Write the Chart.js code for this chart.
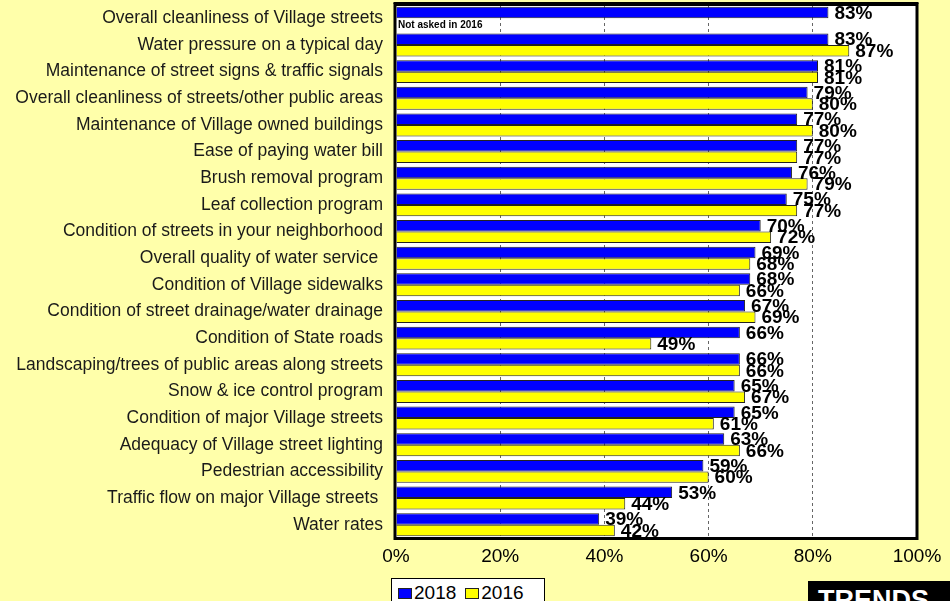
<!DOCTYPE html>
<html>
<head>
<meta charset="utf-8">
<script src="https://cdn.jsdelivr.net/npm/chart.js@4.4.1/dist/chart.umd.min.js"></script>
<style>
  html, body { margin: 0; padding: 0; background: #FFFFAA; }
  #wrap { position: relative; width: 950px; height: 601px; overflow: hidden; background: #FFFFAA; }
  #chart { position: absolute; left: 0; top: 0; }
  #legend {
    position: absolute; left: 391px; top: 578px; width: 154px; height: 28px;
    background: #fff; border: 1px solid #000; box-sizing: border-box;
    font: 19px "Liberation Sans", Arial, sans-serif; color: #000;
    display: flex; align-items: flex-start; padding: 3px 0 0 6px;
  }
  #legend .sw { display: inline-block; width: 14px; height: 11px; border: 1px solid #222; box-sizing: border-box; margin: 6px 2px 0 0; }
  #legend .item { display: flex; align-items: flex-start; margin-right: 9px; line-height: 22px; }
  #logo {
    position: absolute; left: 808px; top: 581px; width: 150px; height: 30px; background: #000;
    color: #fff; font: bold 27px "Liberation Sans", Arial, sans-serif; line-height: 30px;
    padding: 4px 0 0 10px; box-sizing: border-box;
  }
</style>
</head>
<body>
<div id="wrap">
  <canvas id="chart" width="950" height="601"></canvas>
  <div id="legend"></div>
  <div id="logo">TRENDS</div>
</div>
<script>
// Survey items, top to bottom
const categories = [
  "Overall cleanliness of Village streets",
  "Water pressure on a typical day",
  "Maintenance of street signs & traffic signals",
  "Overall cleanliness of streets/other public areas",
  "Maintenance of Village owned buildings",
  "Ease of paying water bill",
  "Brush removal program",
  "Leaf collection program",
  "Condition of streets in your neighborhood",
  "Overall quality of water service ",
  "Condition of Village sidewalks",
  "Condition of street drainage/water drainage",
  "Condition of State roads",
  "Landscaping/trees of public areas along streets",
  "Snow & ice control program",
  "Condition of major Village streets",
  "Adequacy of Village street lighting",
  "Pedestrian accessibility",
  "Traffic flow on major Village streets ",
  "Water rates"
];

// Percent satisfied by survey year (null = item not asked)
const values2018 = [83, 83, 81, 79, 77, 77, 76, 75, 70, 69, 68, 67, 66, 66, 65, 65, 63, 59, 53, 39];
const values2016 = [null, 87, 81, 80, 80, 77, 79, 77, 72, 68, 66, 69, 49, 66, 67, 61, 66, 60, 44, 42];

const seriesNames = ["2018", "2016"];
const seriesColors = ["#0000FF", "#FFFF00"];
const xTicks = [0, 20, 40, 60, 80, 100];
const notAskedNote = "Not asked in 2016";

const FONT = '"Liberation Sans", Arial, sans-serif';

// Legend box under the axis
const legendEl = document.getElementById('legend');
seriesNames.forEach((name, i) => {
  const item = document.createElement('span');
  item.className = 'item';
  const sw = document.createElement('span');
  sw.className = 'sw';
  sw.style.background = seriesColors[i];
  item.appendChild(sw);
  item.appendChild(document.createTextNode(name));
  legendEl.appendChild(item);
});

// White plot area
const plotBackground = {
  id: 'plotBackground',
  beforeDraw(chart) {
    const { ctx, chartArea: a } = chart;
    ctx.save();
    ctx.fillStyle = '#ffffff';
    ctx.fillRect(a.left, a.top, a.right - a.left, a.bottom - a.top);
    ctx.restore();
  }
};

// Value labels at the bar ends, plus the note for the missing 2016 value
const valueLabels = {
  id: 'valueLabels',
  afterDatasetsDraw(chart) {
    const { ctx } = chart;
    const xs = chart.scales.x;
    ctx.save();
    ctx.fillStyle = '#000';
    ctx.textBaseline = 'middle';
    ctx.textAlign = 'left';
    chart.data.datasets.forEach((ds, di) => {
      const meta = chart.getDatasetMeta(di);
      meta.data.forEach((bar, i) => {
        const v = ds.data[i];
        if (v === null || v === undefined) {
          ctx.font = 'bold 10px ' + FONT;
          ctx.fillText(notAskedNote, xs.getPixelForValue(0) + 2, bar.y + 1);
          return;
        }
        ctx.font = 'bold 19px ' + FONT;
        ctx.fillText(v + '%', bar.x + 6, bar.y + 1);
      });
    });
    ctx.restore();
  }
};

// Black frame around the plot, slightly heavier along the top
const plotFrame = {
  id: 'plotFrame',
  afterDraw(chart) {
    const { ctx, chartArea: a } = chart;
    ctx.save();
    ctx.strokeStyle = '#000';
    ctx.lineWidth = 3;
    ctx.strokeRect(a.left - 1, a.top - 0.5, a.right - a.left + 1, a.bottom - a.top + 1);
    ctx.fillStyle = '#000';
    ctx.fillRect(a.left - 2.5, a.top - 3, a.right - a.left + 4, 2);
    ctx.restore();
  }
};

new Chart(document.getElementById('chart'), {
  type: 'bar',
  data: {
    labels: categories,
    datasets: seriesNames.map((name, i) => ({
      label: name,
      data: i === 0 ? values2018 : values2016,
      backgroundColor: seriesColors[i],
      borderColor: '#222',
      borderWidth: 1,
      borderSkipped: 'start',
      categoryPercentage: 0.86,
      barPercentage: 1.0
    }))
  },
  options: {
    indexAxis: 'y',
    responsive: false,
    animation: false,
    devicePixelRatio: 1,
    layout: { padding: { left: 0, right: 33, top: 5, bottom: 33 } },
    plugins: {
      legend: { display: false },
      tooltip: { enabled: false }
    },
    scales: {
      x: {
        min: 0,
        max: 100,
        afterBuildTicks(scale) { scale.ticks = xTicks.map(v => ({ value: v })); },
        afterFit(scale) { scale.height = 30; scale.paddingLeft = 0; scale.paddingRight = 0; },
        ticks: {
          color: '#000',
          font: { family: FONT, size: 19 },
          padding: 7,
          callback: v => v + '%'
        },
        grid: {
          drawTicks: false,
          color: ctx => (ctx.tick && (ctx.tick.value === 0 || ctx.tick.value === 100)) ? 'rgba(0,0,0,0)' : '#666',
          lineWidth: 1
        },
        border: { display: false, dash: [3, 3] }
      },
      y: {
        afterFit(scale) { scale.width = 396; scale.paddingTop = 0; scale.paddingBottom = 0; },
        ticks: {
          color: '#1a1a1a',
          font: { family: FONT, size: 17.5 },
          padding: 13,
          autoSkip: false
        },
        grid: { display: false, drawTicks: false },
        border: { display: false }
      }
    }
  },
  plugins: [plotBackground, valueLabels, plotFrame]
});
</script>
</body>
</html>
